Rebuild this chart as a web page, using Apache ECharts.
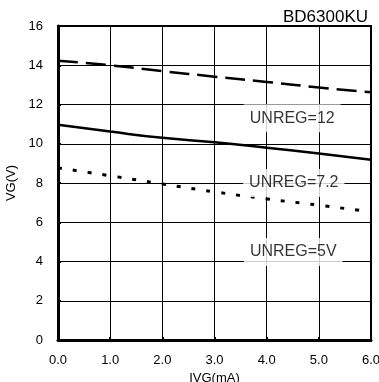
<!DOCTYPE html>
<html><head><meta charset="utf-8">
<script src="https://cdn.jsdelivr.net/npm/echarts@6/dist/echarts.min.js"></script>
<style>html,body{margin:0;padding:0;background:#fff}#c{width:379px;height:382px}</style>
</head><body><div id="c"></div>
<script>
const xValues = [0, 1, 2, 3, 4, 5, 6];
const unreg12 = [14.23, 14.0, 13.7, 13.42, 13.15, 12.87, 12.62];
const unreg72 = [10.97, 10.62, 10.3, 10.08, 9.8, 9.5, 9.18];
const unreg5 = [8.77, 8.37, 7.95, 7.55, 7.19, 6.87, 6.53];
const labelTexts = ['UNREG=12', 'UNREG=7.2', 'UNREG=5V'];
const labelX = [4.49, 4.52, 4.51];
const labelY = [11.3, 8.0, 4.49];
const xTicks = ['0.0','1.0','2.0','3.0','4.0','5.0','6.0'];
const titleText = 'BD6300KU';

const font = 'Arial, "Liberation Sans", sans-serif';
const chart = echarts.init(document.getElementById('c'), null, {renderer: 'canvas'});
const pair = arr => xValues.map((x, i) => [x, arr[i]]);
chart.setOption({
  animation: false,
  backgroundColor: '#fff',
  title: {text: titleText, right: 11, top: 9, padding: 0,
    textStyle: {fontFamily: font, fontSize: 17, fontWeight: 'normal', color: '#000'}},
  grid: {left: 58, right: 8, top: 26, bottom: 42, show: true, borderColor: '#000', borderWidth: 2,
    containLabel: false, outerBoundsMode: 'none'},
  xAxis: {type: 'value', min: 0, max: 6, interval: 1,
    name: 'IVG(mA)', nameLocation: 'middle', nameGap: 30,
    nameTextStyle: {fontFamily: font, fontSize: 13, color: '#000'},
    axisLine: {show: true, lineStyle: {color: '#000', width: 3}},
    axisTick: {show: true, inside: true, length: 3, lineStyle: {color: '#000', width: 2}},
    axisLabel: {fontFamily: font, fontSize: 13, color: '#000', margin: 14,
      formatter: v => xTicks[Math.round(v)]},
    splitLine: {show: true, lineStyle: {color: '#000', width: 1}}},
  yAxis: {type: 'value', min: 0, max: 16, interval: 2,
    name: 'VG(V)', nameLocation: 'middle', nameGap: 36, nameRotate: 90,
    nameTextStyle: {fontFamily: font, fontSize: 13, color: '#000'},
    axisLine: {show: true, lineStyle: {color: '#000', width: 3}},
    axisTick: {show: true, inside: true, length: 3, lineStyle: {color: '#000', width: 2}},
    axisLabel: {fontFamily: font, fontSize: 13, color: '#000', margin: 15},
    splitLine: {show: true, lineStyle: {color: '#000', width: 1}}},
  series: [
    {type: 'line', data: pair(unreg12), showSymbol: false, smooth: true,
      lineStyle: {color: '#000', width: 2.5, type: [20, 8]}},
    {type: 'line', data: pair(unreg72), showSymbol: false, smooth: true,
      lineStyle: {color: '#000', width: 2.5}},
    {type: 'line', data: pair(unreg5), showSymbol: false, smooth: true,
      lineStyle: {color: '#000', width: 3, type: [4, 11]}},
    {type: 'scatter', symbolSize: 0, z: 5,
      data: labelX.map((x, i) => ({value: [x, labelY[i]], name: labelTexts[i]})),
      label: {show: true, position: 'inside', formatter: p => p.name,
        fontFamily: font, fontSize: 16, color: '#000', backgroundColor: '#fff',
        padding: [6, 6]}}
  ]
});
</script></body></html>
